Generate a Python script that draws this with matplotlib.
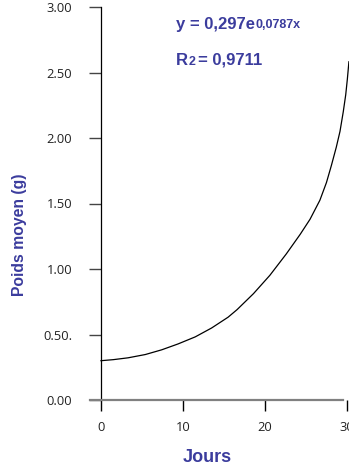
import matplotlib
matplotlib.use("Agg")
import matplotlib.pyplot as plt

# growth curve: mean weight (g) against days
jours = [0.0, 1.5, 3.3, 5.4, 7.4, 9.4, 11.5, 13.5, 15.5, 16.6, 18.6, 20.6, 22.6,
         24.3, 25.5, 26.7, 27.5, 28.1, 28.7, 29.15, 29.55, 29.85, 30.05, 30.24]
poids = [0.300, 0.308, 0.322, 0.347, 0.383, 0.428, 0.482, 0.550, 0.632, 0.690, 0.812,
         0.952, 1.115, 1.265, 1.380, 1.525, 1.660, 1.790, 1.930, 2.050, 2.200, 2.330,
         2.450, 2.582]

x_ticks = [0, 10, 20, 30]
y_ticks = [0.0, 0.5, 1.0, 1.5, 2.0, 2.5, 3.0]
y_tick_labels = ["0.00", "0.50.", "1.00", "1.50", "2.00", "2.50", "3.00"]

BLUE = "#3b3c9d"
W, H = 349, 472

fig = plt.figure(figsize=(W / 100, H / 100), dpi=100)
ax = fig.add_axes([101 / W, 72 / H, 248 / W, 393 / H])

ax.plot(jours, poids, color="black", lw=0.9, clip_on=False)

ax.set_xlim(0, 30.25)
ax.set_ylim(0, 3.0)

for s in ("top", "right"):
    ax.spines[s].set_visible(False)
ax.spines["left"].set_color("black")
ax.spines["left"].set_linewidth(0.9)
ax.spines["bottom"].set_color("#808080")
ax.spines["bottom"].set_linewidth(1.6)
ax.spines["bottom"].set_bounds(-1.35, 29.5)

ax.set_xticks(x_ticks)
ax.set_xticklabels([str(v) for v in x_ticks])
ax.set_yticks(y_ticks)
ax.set_yticklabels(y_tick_labels)

ax.tick_params(axis="x", direction="out", length=8, width=1.0, color="black",
               pad=7, labelsize=9.3, labelcolor="#222222")
ax.tick_params(axis="y", direction="out", length=8.6, width=1.0, color="#444444",
               pad=12, labelsize=9.3, labelcolor="#222222")
for lab in ax.get_xticklabels() + ax.get_yticklabels():
    lab.set_fontfamily("Open Sans")

fig.text(20 / W, 1 - 235 / H, "Poids moyen (g)", rotation=90, ha="center", va="center",
         color=BLUE, fontsize=11.3, fontweight="bold", family="Liberation Sans")
fig.text(207 / W, 1 - 457 / H, "Jours", ha="center", va="center",
         color=BLUE, fontsize=13, fontweight="bold", family="Liberation Sans")

# equation and R² with the small trailing parts set on the same baseline
fig.canvas.draw()
renderer = fig.canvas.get_renderer()


def two_part(x_px, base_px, big, small):
    t = fig.text(x_px / W, 1 - base_px / H, big, ha="left", va="baseline",
                 color=BLUE, fontsize=12, fontweight="bold", family="Liberation Sans")
    bb = t.get_window_extent(renderer)
    s = fig.text(bb.x1 / W + 0.5 / W, 1 - base_px / H, small, ha="left", va="baseline",
                 color=BLUE, fontsize=9, fontweight="bold", family="Liberation Sans")
    return s.get_window_extent(renderer)


two_part(176, 28.5, "y = 0,297e", "0,0787x")
bb = two_part(176, 64.7, "R", "2")
fig.text((bb.x1 + 3) / W, 1 - 64.7 / H, "= 0,9711", ha="left", va="baseline",
         color=BLUE, fontsize=12, fontweight="bold", family="Liberation Sans")

fig.savefig("out.png", dpi=100)
